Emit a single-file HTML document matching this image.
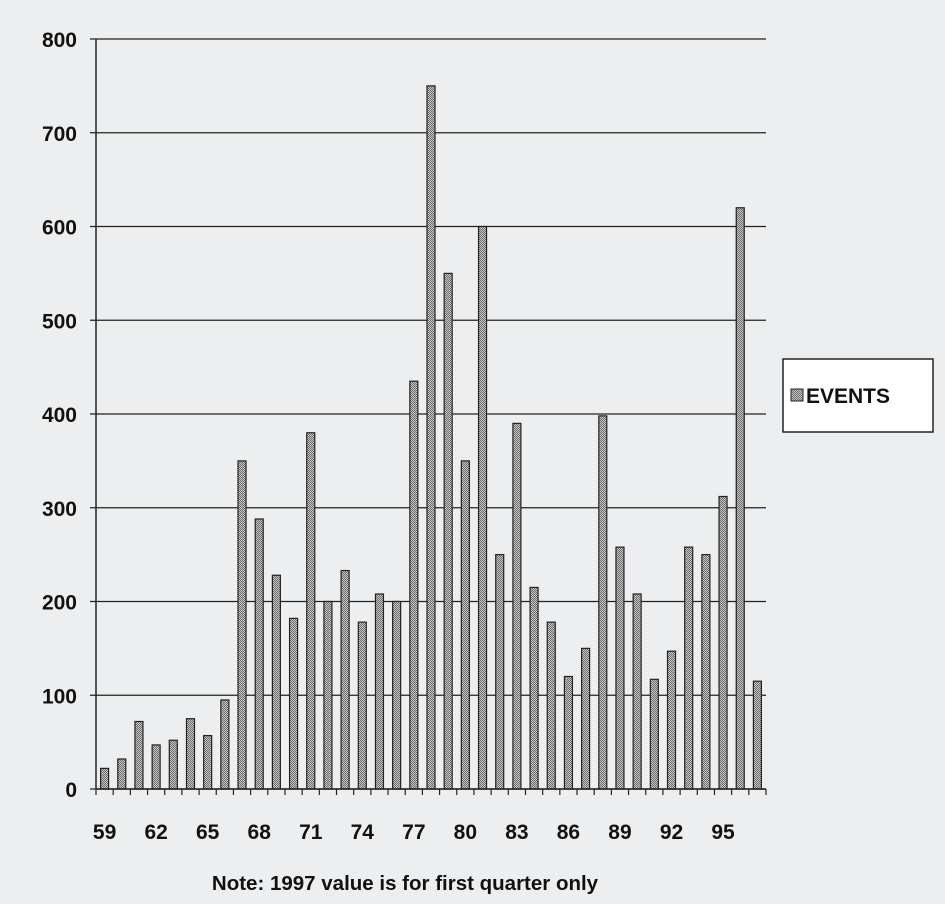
<!DOCTYPE html>
<html><head><meta charset="utf-8"><style>
body{margin:0;background:#eceef0;}
svg{display:block;font-family:"Liberation Sans",sans-serif;font-weight:bold;}
</style></head><body>
<svg width="945" height="904">
<defs><pattern id="hatch" width="2" height="2" patternUnits="userSpaceOnUse"><rect width="2" height="2" fill="#c8c8c8"/><rect width="1" height="1" fill="#6a6a6a"/><rect x="1" y="1" width="1" height="1" fill="#6a6a6a"/></pattern></defs>
<g id="grid"></g><g id="bars"></g><g id="axes"></g>
<rect x="783" y="359" width="150" height="73" fill="#fff" stroke="#222" stroke-width="1.5"/>
<rect x="791" y="389" width="12" height="12" fill="url(#hatch)" stroke="#222"/>
<text x="806" y="403" font-size="21" fill="#111">EVENTS</text>
<text x="405" y="890" font-size="20.5" text-anchor="middle" fill="#111">Note: 1997 value is for first quarter only</text>
<script>
const years=[59,60,61,62,63,64,65,66,67,68,69,70,71,72,73,74,75,76,77,78,79,80,81,82,83,84,85,86,87,88,89,90,91,92,93,94,95,96,97];
const events=[22,32,72,47,52,75,57,95,350,288,228,182,380,200,233,178,208,200,435,750,550,350,600,250,390,215,178,120,150,398,258,208,117,147,258,250,312,620,115];
const yTicks=[0,100,200,300,400,500,600,700,800];
const NS="http://www.w3.org/2000/svg";
const x0=96,x1=766,y0=789,y1=39;
const step=(x1-x0)/years.length;
function y(v){return y0-(v/800)*(y0-y1);}
function xc(i){return x0+(i+0.5)*step;}
const grid=document.getElementById('grid'),bars=document.getElementById('bars'),axes=document.getElementById('axes');
function mk(tag,attrs,parent){const e=document.createElementNS(NS,tag);for(const k in attrs)e.setAttribute(k,attrs[k]);parent.appendChild(e);return e;}
yTicks.forEach(t=>{
 const l=mk('line',{x1:x0-6,x2:x1,y1:y(t),y2:y(t),stroke:'#222','stroke-width':1.3},grid);
 
 
 const tx=mk('text',{x:77,y:y(t)+8,'font-size':21,'text-anchor':'end',fill:'#111'},axes);
 tx.textContent=t;
 
 
});
events.forEach((v,i)=>{
 const r=mk('rect',{x:xc(i)-4,y:y(v),width:8,height:y0-y(v),fill:'url(#hatch)',stroke:'#222','stroke-width':1.2},bars);
 
 
});
const ax=mk('line',{x1:x0,x2:x1,y1:y0,y2:y0,stroke:'#222','stroke-width':1.5},axes);


const ay=mk('line',{x1:x0,x2:x0,y1:y1,y2:y0,stroke:'#222','stroke-width':1.5},axes);


for(let i=0;i<=years.length;i++){
 const tk=mk('line',{x1:x0+i*step,x2:x0+i*step,y1:y0,y2:y0+6,stroke:'#222','stroke-width':1.2},axes);
 
 
}
years.forEach((yr,i)=>{
 if(i%3!==0)return;
 const tx=mk('text',{x:xc(i),y:839,'font-size':21,'text-anchor':'middle',fill:'#111'},axes);
 tx.textContent=yr;
 
 
});
</script>
</svg>
</body></html>
